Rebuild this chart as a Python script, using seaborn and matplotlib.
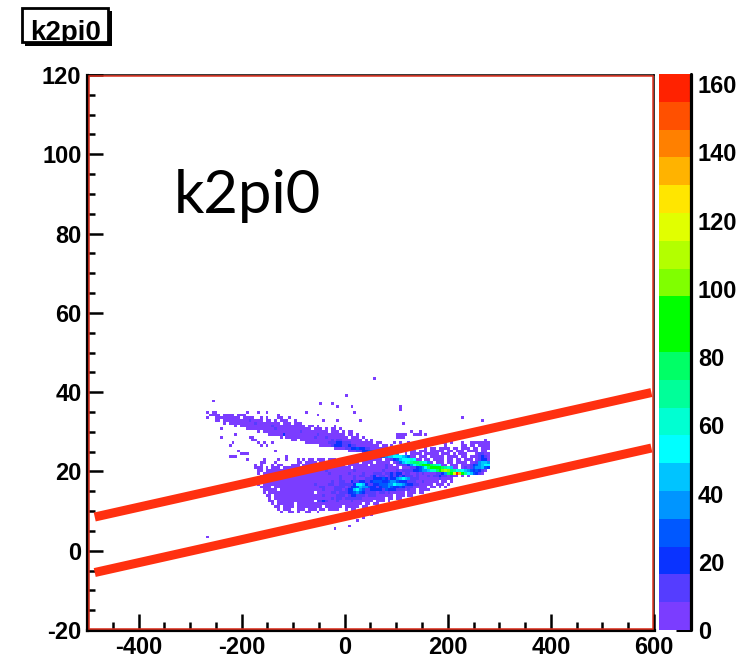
import numpy as np
import matplotlib
matplotlib.use("Agg")
import matplotlib.pyplot as plt
from matplotlib.colors import ListedColormap
from matplotlib.lines import Line2D
from matplotlib.patches import Rectangle
from matplotlib.ticker import MultipleLocator
import seaborn as sns

# ---------------------------------------------------------------- data
title = "k2pi0"
x_range = (-500, 600)
y_range = (-20, 120)
n_bins = 200
first_col = 42      # histogram column of the first character in a row
top_row = 90        # histogram row of the first entry of cell_rows

# one character per bin: colour level 1..20 of the palette, "." = empty
level_codes = "123456789abcdefghijk"
z_max = 163
palette_colors = [
    "#7b3dff", "#553dff", "#0a33ff", "#0058ff", "#0095ff",
    "#00c4ff", "#00ffff", "#00ffd2", "#00ff99", "#00ff66",
    "#00ff00", "#00ff00", "#80ff00", "#b3ff00", "#e1ff00",
    "#ffe600", "#ffb300", "#ff8000", "#ff5000", "#ff2200",
]

# rows from top to bottom, "start:pattern" segments
cell_rows = [
    "59:1",
    "",
    "",
    "",
    "",
    "",
    "49:1",
    "",
    "2:1",
    "40:1 44:1",
    "46:1 51:1 68:1",
    "68:1",
    "0:1.11 14:1...1..1 35:1 52:1",
    "1:1111.1111.111 25:1 39:1",
    "0:1..111111111.1111..1.1...11..1 90:1",
    "3:11.11111111121111.11.1.111..1 41:1 46:1 54:1 97:1",
    "6:1.111111111211111111.111.111 69:1",
    "10:1.11111111111211111111111.11.1 45:1",
    "5:1 14:11111111112111111111111.111.1.11.1",
    "18:1.11111111111112111111111.111.1.11 72:1 75:1",
    "10:1 22:111113111111111112111111111.11.1 67:1111 73:111 77:1",
    "5:1 15:11 26:1.1111111111211121111111.111.1 67:111",
    "16:11 30:11.1111111111121221111111.1.1 98:1",
    "9:1 18:1.1..1 35:111111112223322211111111.11 66:1.1..1 83:11.1 90:1 93:1111111",
    "8:1 19:1.1 40:111123332232211111111.11.1 84:1 90:11 93:11.1111",
    "45:11112233433221111111.1.1 77:1.11.1111.11.111.11.111",
    "11:1 24:1 50:11122334433221111.1 72:11.111.11111.11.111.1111.11",
    "12:111 55:1122344567765 70:1.1111.11111.111.1.111 95:12211",
    "8:111 28:1 58:11234566777654 72:11.111.11111.1111.11.11 95:12321",
    "14:1 20:1....1..1...1.1.11.1 40:11.111.11.1111.11111 60:11.1 64:1234677787 74:11.11.1111.11.11.111 95:12331",
    "19:11 24:1 32:11.1111.111111.11111 52:11.111 58:1.11111.12 68:46789aa987 78:51.111.11.1111.1 94:125665",
    "17:1.1 23:1.11 30:111.11111111.111111. 50:1111111.11 60:111211.11223 72:579abbba987 83:11.111.11 92:12345677",
    "17:111.1.111.1111111111 37:11121111111111.11111 57:11111121111.11122345 77:7abccba986 87:11.12 92:12455643",
    "18:11.11111111111111111 38:11112111111111211111 58:1111211112122223345568 80:8acdeda97 89:8765434321",
    "18:1.111111111111111111 38:11111211111121111211 58:122212232331221121211112235 85:acfkhb97 93:64321",
    "19:11.11111111111111111 39:11111111211112122112 59:31221232323222121112 79:1223221211.1.1",
    "20:1111.111111111111111 40:11111112111121112223 60:33432335676522211111 80:1121111",
    "18:11.11111111111111111 38:11111121122113223322 58:34443345543332221121 78:1111.11.1",
    "18:1.111111111111111111 38:21111221122222377632 58:23344455766543322111 78:11.111.1",
    "19:1111.111111111111111 39:12211122221233465543 59:3234454334322211111. 79:11.1.1",
    "20:11111.11111111111111 40:12111222123367542233 60:33243332221211.1111.",
    "20:1.1111111111111111.1 40:11112212223345432222 60:1221211111.111.11",
    "21:11.11111111111111111 41:21111222123322212221 61:11111.111.11",
    "22:1.111111111111111111 42:11212212222221111111 62:1.11.11",
    "22:11.1111111111111.223 42:21112111121111111.11 62:1.1",
    "23:1.111111.11111111111 43:111111111111.11.11",
    "24:11.1111.111111111.11 44:1111.11111.11",
    "25:1.111..111.111.11.11 45:11..1.11",
    "26:1..11.1..11..1. 58:1",
    "55:11 58:1",
    "55:1",
    "53:1",
    "",
    "50:1",
    "45:1",
    "",
    "",
    "0:1",
]

# the two selection cuts drawn over the histogram
cut_x = [-485, 595]
upper_cut_y = [8.5, 39.9]
lower_cut_y = [-5.5, 25.9]

x_ticks = [-400, -200, 0, 200, 400, 600]
y_ticks = [-20, 0, 20, 40, 60, 80, 100, 120]
z_ticks = [0, 20, 40, 60, 80, 100, 120, 140, 160]

# ---------------------------------------------------------------- style
sns.set_theme(style="white")
plt.rcParams["font.family"] = ["Liberation Sans", "DejaVu Sans"]
plt.rcParams["font.weight"] = "bold"
plt.rcParams["axes.unicode_minus"] = False

W, H = 744, 660


def fx(px):
    return px / W


def fy(py):
    return 1 - py / H


# ---------------------------------------------------------------- bins
x_edges = np.linspace(x_range[0], x_range[1], n_bins + 1)
y_edges = np.linspace(y_range[0], y_range[1], n_bins + 1)

cells = {}
for r, row in enumerate(cell_rows):
    for seg in row.split():
        start, pattern = seg.split(":")
        for k, ch in enumerate(pattern):
            if ch != ".":
                cells[(first_col + int(start) + k, top_row - r)] = level_codes.index(ch) + 1

cols = np.array([c for c, _ in cells])
rows = np.array([r for _, r in cells])
levels = np.array(list(cells.values()))
x_centers = 0.5 * (x_edges[cols] + x_edges[cols + 1])
y_centers = 0.5 * (y_edges[rows] + y_edges[rows + 1])
counts = np.round((levels - 0.5) * z_max / len(level_codes))

cmap = ListedColormap(palette_colors)

# ---------------------------------------------------------------- figure
fig = plt.figure(figsize=(W / 100, H / 100), dpi=100)
fig.patch.set_facecolor("white")
ax = fig.add_axes([fx(87), fy(630), (654 - 87) / W, (630 - 75) / H])
cax = fig.add_axes([fx(659), fy(630), (691 - 659) / W, (630 - 74) / H])

sns.histplot(
    x=x_centers, y=y_centers, weights=counts,
    bins=(x_edges, y_edges), cmap=cmap, vmin=0, vmax=z_max,
    cbar=True, cbar_ax=cax, ax=ax,
)

ax.plot(cut_x, upper_cut_y, color="#ff3010", lw=6.5, solid_capstyle="butt", zorder=5)
ax.plot(cut_x, lower_cut_y, color="#ff3010", lw=6.5, solid_capstyle="butt", zorder=5)

ax.set_xlim(*x_range)
ax.set_ylim(*y_range)
ax.set_xlabel("")
ax.set_ylabel("")
ax.set_xticks(x_ticks)
ax.set_yticks(y_ticks)
ax.xaxis.set_minor_locator(MultipleLocator(50))
ax.yaxis.set_minor_locator(MultipleLocator(5))
ax.tick_params(axis="both", which="major", direction="in", length=11.5, width=1.8,
               labelsize=17, color="black", labelcolor="black",
               top=False, right=False, bottom=True, left=True, pad=4)
ax.tick_params(axis="both", which="minor", direction="in", length=5.8, width=1.8,
               color="black", top=False, right=False, bottom=True, left=True)
for lab in ax.get_xticklabels() + ax.get_yticklabels():
    lab.set_fontweight("bold")
for side in ("left", "bottom"):
    ax.spines[side].set_linewidth(2.3)
    ax.spines[side].set_color("black")
for side in ("top", "right"):
    ax.spines[side].set_linewidth(1.1)
    ax.spines[side].set_color("black")
for sp in ax.spines.values():
    sp.set_zorder(8)
ax.grid(False)

# thin red frame just inside the axes box
fig.add_artist(Rectangle((fx(88.8), fy(628.6)), (652.6 - 88.8) / W, (628.6 - 76.4) / H,
                         transform=fig.transFigure, fill=False,
                         edgecolor="#e0301e", linewidth=1.1, zorder=4))

# colour scale
cb = ax.collections[0].colorbar
cb.outline.set_visible(False)
cb.set_ticks(z_ticks)
cb.minorticks_off()
cax.yaxis.set_ticks_position("right")
cax.tick_params(axis="y", direction="in", length=11, width=2.2, labelsize=17,
                pad=5, color="black", labelcolor="black", right=True)
for lab in cax.get_yticklabels():
    lab.set_fontweight("bold")
cax.add_line(Line2D([1, 1], [0, 1], transform=cax.transAxes, color="black",
                    lw=2.3, clip_on=False, zorder=10))

# large label inside the frame
fig.text(fx(174), fy(213), title, fontsize=43, fontweight="normal",
         family=["Lato", "DejaVu Sans"], color="black", va="baseline", ha="left")

# title pave with drop shadow
fig.add_artist(Rectangle((fx(25), fy(46)), (112 - 25) / W, (46 - 11) / H,
                         transform=fig.transFigure, facecolor="black",
                         edgecolor="none", zorder=20))
box = Rectangle((fx(22), fy(42)), (108 - 22) / W, (42 - 8) / H,
                transform=fig.transFigure, facecolor="white",
                edgecolor="black", linewidth=2.0, zorder=21)
fig.add_artist(box)
ttl = fig.text(fx(30), fy(40.5), title, fontsize=20, fontweight="bold",
               color="black", va="baseline", ha="left", zorder=22)
ttl.set_clip_path(box)

fig.savefig("out.png", dpi=100, facecolor="white")
